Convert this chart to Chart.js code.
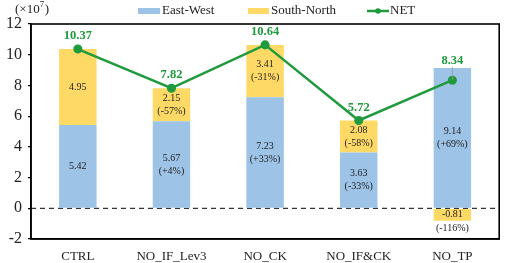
<!DOCTYPE html>
<html>
<head>
<meta charset="utf-8">
<script src="https://cdn.jsdelivr.net/npm/chart.js@4"></script>
<style>
  html, body { margin: 0; padding: 0; background: #fff; }
  #wrap { width: 505px; height: 263px; }
</style>
</head>
<body>
<div id="wrap"><canvas id="grafico"></canvas></div>
<script>
var CASOS = ["CTRL", "NO_IF_Lev3", "NO_CK", "NO_IF&CK", "NO_TP"];
var ESTE_OESTE = [5.42, 5.67, 7.23, 3.63, 9.14];
var SUR_NORTE = [4.95, 2.15, 3.41, 2.08, -0.81];
var NETO = [10.37, 7.82, 10.64, 5.72, 8.34];
var PCT_EO = ["", "(+4%)", "(+33%)", "(-33%)", "(+69%)"];
var PCT_SN = ["", "(-57%)", "(-31%)", "(-58%)", "(-116%)"];
var Y_TICKS = [-2, 0, 2, 4, 6, 8, 10, 12];

var AZUL = "#9dc3e6";
var AMARILLO = "#ffd966";
var VERDE = "#1f9a3c";
var SERIF = "'Liberation Serif', 'Times New Roman', serif";

// etiquetas, linea de cero, marco y leyenda
var extras = {
    id: "extras",
    beforeDatasetsDraw: function (chart) {
        var ctx = chart.ctx, a = chart.chartArea;
        var y0 = chart.scales.y.getPixelForValue(0);
        ctx.save();
        ctx.strokeStyle = "#333";
        ctx.lineWidth = 1.2;
        ctx.setLineDash([5, 4]);
        ctx.beginPath();
        ctx.moveTo(a.left, y0);
        ctx.lineTo(a.right, y0);
        ctx.stroke();
        ctx.restore();
    },
    afterDatasetsDraw: function (chart) {
        var ctx = chart.ctx, a = chart.chartArea;
        ctx.save();
        ctx.textAlign = "center";
        ctx.textBaseline = "middle";
        ctx.fillStyle = "#222";
        ctx.font = "10px " + SERIF;
        [[0, ESTE_OESTE, PCT_EO], [1, SUR_NORTE, PCT_SN]].forEach(function (d) {
            var meta = chart.getDatasetMeta(d[0]);
            meta.data.forEach(function (bar, i) {
                var mid = (bar.y + bar.base) / 2;
                var h = Math.abs(bar.base - bar.y);
                var val = d[1][i].toFixed(2);
                var pct = d[2][i];
                if (!pct) {
                    ctx.fillText(val, bar.x, mid);
                } else if (h > 28) {
                    ctx.fillText(val, bar.x, mid - 6.5);
                    ctx.fillText(pct, bar.x, mid + 6.5);
                } else {
                    ctx.fillText(val, bar.x, mid);
                    ctx.fillText(pct, bar.x, Math.max(bar.y, bar.base) + 8);
                }
            });
        });

        // valores NET
        var lineMeta = chart.getDatasetMeta(2);
        var eoMeta = chart.getDatasetMeta(0);
        var snMeta = chart.getDatasetMeta(1);
        ctx.font = "bold 12.5px " + SERIF;
        ctx.fillStyle = VERDE;
        lineMeta.data.forEach(function (pt, i) {
            var topBar = Math.min(eoMeta.data[i].y, snMeta.data[i].y, eoMeta.data[i].base);
            var ly = pt.y - 13;
            if (ly > topBar - 7) {
                ly = topBar - 7;
                ctx.strokeStyle = "#999";
                ctx.lineWidth = 0.8;
                ctx.beginPath();
                ctx.moveTo(pt.x, ly + 6);
                ctx.lineTo(pt.x, pt.y);
                ctx.stroke();
            }
            ctx.fillText(NETO[i].toFixed(2), pt.x, ly);
        });
        ctx.restore();
    },
    afterDraw: function (chart) {
        var ctx = chart.ctx, a = chart.chartArea;
        ctx.save();
        ctx.strokeStyle = "#000";
        ctx.lineWidth = 1.6;
        ctx.strokeRect(a.left, a.top, a.right - a.left, a.bottom - a.top);

        // unidad
        ctx.fillStyle = "#222";
        ctx.textBaseline = "middle";
        ctx.textAlign = "left";
        ctx.font = "13px " + SERIF;
        var t = "(\u00d710";
        ctx.fillText(t, 15, 10);
        var w = ctx.measureText(t).width;
        ctx.font = "9px " + SERIF;
        ctx.fillText("7", 15 + w, 5);
        var w2 = ctx.measureText("7").width;
        ctx.font = "13px " + SERIF;
        ctx.fillText(")", 15 + w + w2 + 0.5, 10);

        // leyenda
        ctx.font = "13px " + SERIF;
        ctx.fillStyle = AZUL;
        ctx.fillRect(138, 8, 22, 6);
        ctx.fillStyle = AMARILLO;
        ctx.fillRect(248, 8, 21, 6);
        ctx.strokeStyle = VERDE;
        ctx.lineWidth = 2.5;
        ctx.beginPath();
        ctx.moveTo(367, 11);
        ctx.lineTo(389, 11);
        ctx.stroke();
        ctx.fillStyle = VERDE;
        ctx.beginPath();
        ctx.arc(378, 11, 2.8, 0, Math.PI * 2);
        ctx.fill();
        ctx.fillStyle = "#222";
        ctx.fillText("East-West", 162, 11);
        ctx.fillText("South-North", 271, 11);
        ctx.fillText("NET", 390, 11);
        ctx.restore();
    }
};

var ctx1 = document.getElementById("grafico").getContext("2d");
var grafico = new Chart(ctx1, {
    type: "bar",
    data: {
        labels: CASOS,
        datasets: [
            {
                label: "East-West",
                data: ESTE_OESTE,
                backgroundColor: AZUL,
                stack: "s",
                order: 2
            },
            {
                label: "South-North",
                data: SUR_NORTE,
                backgroundColor: AMARILLO,
                stack: "s",
                order: 2
            },
            {
                type: "line",
                label: "NET",
                data: NETO,
                borderColor: VERDE,
                backgroundColor: VERDE,
                borderWidth: 2.5,
                pointRadius: 3.3,
                pointHoverRadius: 3.3,
                tension: 0,
                order: 1
            }
        ]
    },
    options: {
        responsive: true,
        maintainAspectRatio: false,
        animation: false,
        layout: { padding: { top: 24, right: 5, left: 0, bottom: 0 } },
        plugins: {
            legend: { display: false },
            tooltip: { enabled: false }
        },
        datasets: {
            bar: { barPercentage: 0.4, categoryPercentage: 1 }
        },
        scales: {
            x: {
                stacked: true,
                grid: { display: false, drawTicks: false },
                border: { display: true, color: "#000", width: 1.6 },
                ticks: {
                    color: "#222",
                    font: { family: SERIF, size: 13 },
                    padding: 10,
                    maxRotation: 0
                },
                afterFit: function (s) { s.height = 24; }
            },
            y: {
                stacked: true,
                min: -2,
                max: 12,
                grid: {
                    display: true,
                    drawOnChartArea: false,
                    drawTicks: true,
                    tickLength: 3,
                    color: "#000",
                    lineWidth: 1.2
                },
                border: { display: true, color: "#000", width: 1.6 },
                afterBuildTicks: function (s) {
                    s.ticks = Y_TICKS.map(function (v) { return { value: v }; });
                },
                ticks: {
                    color: "#222",
                    font: { family: SERIF, size: 16 },
                    padding: 6
                },
                afterFit: function (s) { s.width = 31; }
            }
        }
    },
    plugins: [extras]
});
</script>
</body>
</html>
